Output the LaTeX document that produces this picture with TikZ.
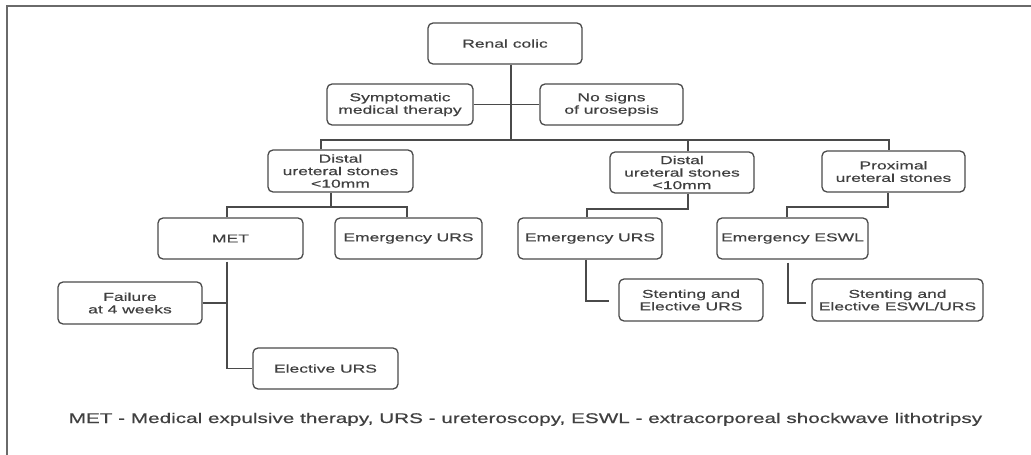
\documentclass[tikz,border=0pt]{standalone}
\usepackage{fontspec}
\setmainfont{Liberation Sans}
\newfontfamily\boxfont[FakeStretch=1.52,FakeBold=0.5]{Liberation Sans}
\newfontfamily\notefont[FakeStretch=1.48,FakeBold=0.5]{Liberation Sans}
\usetikzlibrary{calc}
\definecolor{txt}{HTML}{404040}
\definecolor{ln}{HTML}{4A4A4A}
\definecolor{frame}{HTML}{6A6A6A}
\begin{document}
\begin{tikzpicture}[x=1pt,y=-1pt,
  bx/.style={draw=ln, line width=1.3pt, rounded corners=5pt, align=center, text=txt,
    font=\boxfont\fontsize{11.5}{12.5}\selectfont, inner sep=0pt},
  cn/.style={draw=ln, line width=1.4pt},
  note/.style={text=txt, font=\notefont\fontsize{14}{16}\selectfont, inner sep=0pt}]
\useasboundingbox (0,0) rectangle (1031,455);
\fill[white] (0,0) rectangle (1031,455);
\draw[frame, line width=1.5pt] (7,456) -- (7,6) -- (1032,6);

% boxes
\node[bx, minimum width=154pt, minimum height=41pt] (renal) at (505,43.5) {Renal colic};
\node[bx, minimum width=146pt, minimum height=41pt] (sympt) at (400,104.5) {Symptomatic\\medical therapy};
\node[bx, minimum width=143pt, minimum height=41pt] (nosign) at (611.5,104.5) {No signs\\of urosepsis};
\node[bx, minimum width=145pt, minimum height=42pt] (distal1) at (340.5,171) {Distal\\ureteral stones\\<10mm};
\node[bx, minimum width=144pt, minimum height=41pt] (distal2) at (682,172.5) {Distal\\ureteral stones\\<10mm};
\node[bx, minimum width=143pt, minimum height=41pt] (prox) at (893.5,171.5) {Proximal\\ureteral stones};
\node[bx, minimum width=145pt, minimum height=41pt] (met) at (230.5,238.5) {MET};
\node[bx, minimum width=147pt, minimum height=41pt] (emurs1) at (408.5,238.5) {Emergency URS};
\node[bx, minimum width=144pt, minimum height=41pt] (emurs2) at (590,238.5) {Emergency URS};
\node[bx, minimum width=151pt, minimum height=41pt] (emeswl) at (792.5,238.5) {Emergency ESWL};
\node[bx, minimum width=144pt, minimum height=42pt] (failure) at (130,303) {Failure\\at 4 weeks};
\node[bx, minimum width=145pt, minimum height=41pt] (elective) at (325.5,368.5) {Elective URS};
\node[bx, minimum width=144pt, minimum height=42pt] (stent1) at (691,300) {Stenting and\\Elective URS};
\node[bx, minimum width=171pt, minimum height=42pt] (stent2) at (897.5,300) {Stenting and\\Elective ESWL/URS};

\node[note, anchor=base] (legend) at (525.5,423) {MET - Medical expulsive therapy, URS - ureteroscopy, ESWL - extracorporeal shockwave lithotripsy};

% junction points
\coordinate (t) at (511,140);
\coordinate (hL) at (321,140);
\coordinate (hM) at (688,140);
\coordinate (hR) at (889,140);
\coordinate (b1) at (331,207);
\coordinate (b1L) at (227,207);
\coordinate (b1R) at (407,207);
\coordinate (b2) at (688,209);
\coordinate (b2L) at (587,209);
\coordinate (b3) at (888,207);
\coordinate (b3L) at (787,207);
\coordinate (m1) at (227,367);
\coordinate (e2) at (586,301);
\coordinate (e3) at (788,303);

% connectors
\draw[cn] (renal.south -| t) -- (t);
\draw[cn] (sympt.east) -- (nosign.west);
\draw[cn] (hL |- distal1.north) -- (hL) -- (hR) -- (hR |- prox.north);
\draw[cn] (hM) -- (hM |- distal2.north);
\draw[cn] (b1 |- distal1.south) -- (b1);
\draw[cn] (b1L |- met.north) -- (b1L) -- (b1R) -- (b1R |- emurs1.north);
\draw[cn] (b2 |- distal2.south) -- (b2) -- (b2L) -- (b2L |- emurs2.north);
\draw[cn] (b3 |- prox.south) -- (b3) -- (b3L) -- (b3L |- emeswl.north);
\draw[cn, shorten <=2pt] (m1 |- met.south) -- (m1 |- elective.west) -- (elective.west);
\draw[cn] (failure.east) -- (failure.east -| m1);
\draw[cn, shorten >=9pt] (e2 |- emurs2.south) -- (e2) -- (stent1.west |- e2);
\draw[cn, shorten <=3pt, shorten >=5pt] (e3 |- emeswl.south) -- (e3) -- (stent2.west |- e3);
\end{tikzpicture}
\end{document}
